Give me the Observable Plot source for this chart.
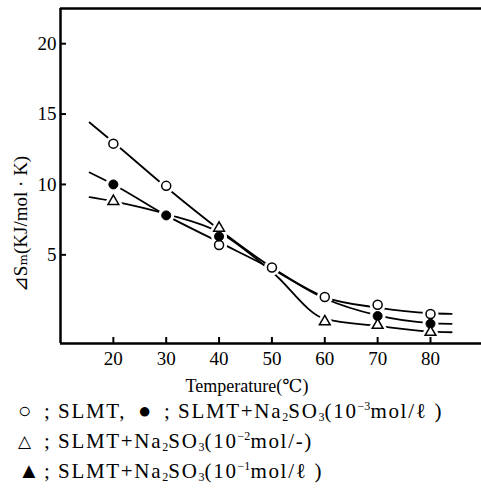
<!DOCTYPE html>
<html>
<head>
<meta charset="utf-8">
<script src="https://cdn.jsdelivr.net/npm/d3@7"></script>
<script src="https://cdn.jsdelivr.net/npm/@observablehq/plot@0.6"></script>
<style>
  body { margin: 0; background: #fff; }
  #wrap { width: 481px; height: 498px; position: relative; font-family: "Liberation Serif", "Times New Roman", "DejaVu Serif", serif; }
  #legend { position: absolute; left: 18px; top: 396px; font-size: 21px; line-height: 30px; color: #000; white-space: nowrap; }
  #legend .row { height: 30px; }
  #legend .ent { display: inline-block; }
  #legend .sym { display: inline-block; width: 26px; letter-spacing: 0; line-height: 0; }
  #legend .s0, #legend .s1 { font-size: 22px; vertical-align: 0px; }
  #legend .s2 { font-size: 17px; vertical-align: 1px; }
  #legend .s3 { font-size: 22px; vertical-align: 0px; }
  #legend .semi { display: inline-block; width: 14px; }
  #legend .txt { letter-spacing: 1.7px; }
  #legend sub { font-size: 12px; vertical-align: -3px; line-height: 0; letter-spacing: 0; }
  #legend sup { font-size: 12px; vertical-align: 8px; line-height: 0; letter-spacing: 0; }
</style>
</head>
<body>
<div id="wrap"><div id="chart"></div><div id="legend"></div></div>
<script>
// ---- data ----
const xTicks = [20, 30, 40, 50, 60, 70, 80];
const yTicks = [5, 10, 15, 20];
const xLabel = "Temperature(\u2103)";
const yLabel = "\u22BFS\u2098(KJ/mol \u00B7 K)";

// measured points
const openT = [20, 30, 40, 50, 60, 70, 80];
const openS = [12.9, 9.9, 5.7, 4.1, 2.0, 1.45, 0.8];
const filledT = [20, 30, 40, 70, 80];
const filledS = [10.0, 7.8, 6.3, 0.65, 0.1];
const triT = [20, 40, 60, 70, 80];
const triS = [8.8, 6.9, 0.25, 0.0, -0.5];

// fitted curves
const curveT = [15.5, 20, 30, 40, 50, 60, 70, 80, 84];
const curveOpenS = [14.4, 13.0, 9.8, 6.8, 4.1, 2.0, 1.25, 0.85, 0.8];
const curveFilledS = [10.85, 10.0, 7.8, 5.9, 4.0, 1.9, 0.7, 0.15, 0.1];
const curveTriS = [9.1, 8.8, 7.9, 6.6, 3.8, 0.45, -0.05, -0.45, -0.5];

// legend
const legendSymbols = ["\u25CB", "\u25CF", "\u25B3", "\u25B2"];
const legendNames = ["SLMT,", "SLMT+Na_2SO_3", "SLMT+Na_2SO_3", "SLMT+Na_2SO_3"];
const legendExp = [null, "-3", "-2", "-1"];
const legendUnit = [null, "mol/\u2113 ", "mol/-", "mol/\u2113 "];

// ---- build ----
const FONT = "'Liberation Serif', 'Times New Roman', 'DejaVu Serif', serif";
const zip = (xs, ys) => xs.map((x, i) => ({x, y: ys[i]}));
const openPts = zip(openT, openS);
const filledPts = zip(filledT, filledS);
const triPts = zip(triT, triS);
const curves = [
  ...zip(curveT, curveOpenS).map(d => ({...d, s: "open"})),
  ...zip(curveT, curveFilledS).map(d => ({...d, s: "filled"})),
  ...zip(curveT, curveTriS).map(d => ({...d, s: "tri"}))
];
const xDomain = [10, 89.65];
const yDomain = [-1.3, 22.5];

const chart = Plot.plot({
  width: 481,
  height: 398,
  marginLeft: 60,
  marginRight: 0,
  marginTop: 8,
  marginBottom: 55,
  style: {fontFamily: FONT, fontSize: "19px", color: "#000", background: "#fff"},
  x: {domain: xDomain},
  y: {domain: yDomain},
  marks: [
    Plot.line(curves, {x: "x", y: "y", z: "s", curve: "monotone-x", stroke: "#000", strokeWidth: 1.8}),
    Plot.dot(openPts, {x: "x", y: "y", r: 5, fill: "#fff", stroke: "#fff", strokeWidth: 6}),
    Plot.dot(filledPts, {x: "x", y: "y", r: 5, fill: "#fff", stroke: "#fff", strokeWidth: 6}),
    Plot.dot(triPts, {x: "x", y: "y", r: 4.5, symbol: "triangle", fill: "#fff", stroke: "#fff", strokeWidth: 6}),
    Plot.dot(openPts, {x: "x", y: "y", r: 4.5, fill: "#fff", stroke: "#000", strokeWidth: 1.5}),
    Plot.dot(filledPts, {x: "x", y: "y", r: 4.5, fill: "#000", stroke: "#000", strokeWidth: 1}),
    Plot.dot(triPts, {x: "x", y: "y", r: 4, symbol: "triangle", fill: "#fff", stroke: "#000", strokeWidth: 1.5}),
    Plot.ruleX([xDomain[0]], {stroke: "#000", strokeWidth: 2.5}),
    Plot.ruleY([yDomain[0]], {stroke: "#000", strokeWidth: 2.5}),
    Plot.ruleY([yDomain[1]], {stroke: "#000", strokeWidth: 2.5}),
    Plot.axisX(xTicks, {tickSize: -6, tickPadding: 14, strokeWidth: 2, label: null, fontSize: 19}),
    Plot.axisY(yTicks, {tickSize: -6, tickPadding: 10, strokeWidth: 2, label: null, fontSize: 19}),
    Plot.text([xLabel], {frameAnchor: "bottom", dx: -24, dy: 48, fontSize: 18, letterSpacing: 0.5, text: d => d}),
    Plot.text([yLabel], {frameAnchor: "left", textAnchor: "middle", rotate: -90, dx: -40, dy: 48, fontSize: 19, letterSpacing: 2.5, text: d => d})
  ]
});
document.getElementById("chart").appendChild(chart);

function fmtName(s) {
  return s.replace(/_(\d)/g, "<sub>$1</sub>");
}
function entry(i, width) {
  let t = fmtName(legendNames[i]);
  if (legendExp[i]) t += "(10<sup>" + legendExp[i].replace("-", "\u2212") + "</sup>" + legendUnit[i] + ")";
  const w = width ? ` style="width:${width}px"` : "";
  return `<span class="ent"${w}><span class="sym s${i}">${legendSymbols[i]}</span><span class="semi">;</span><span class="txt">${t}</span></span>`;
}
const rows = [entry(0, 120) + entry(1), entry(2), entry(3)];
document.getElementById("legend").innerHTML = rows.map(l => `<div class="row">${l}</div>`).join("");
</script>
</body>
</html>
